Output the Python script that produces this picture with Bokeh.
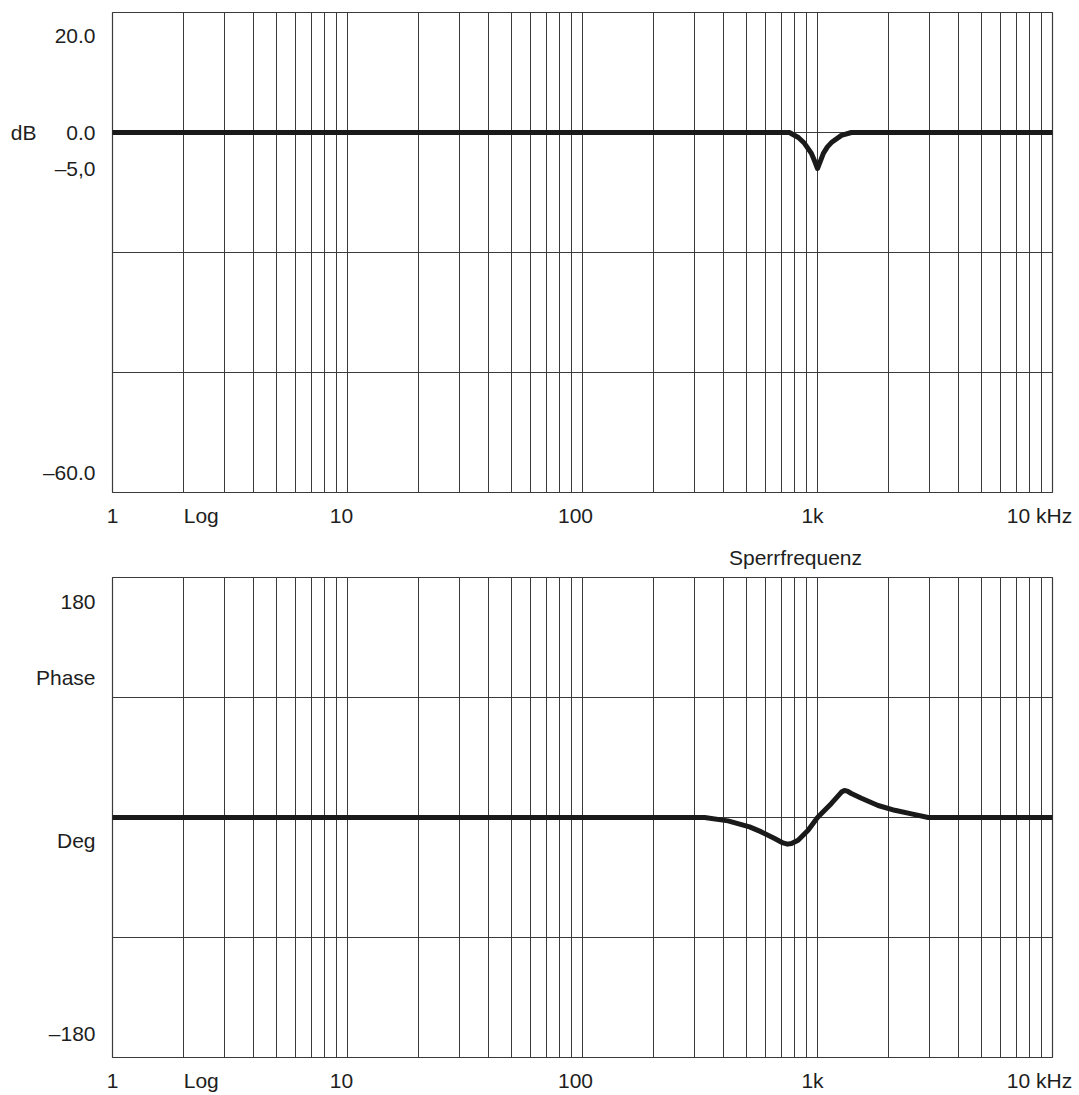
from bokeh.plotting import figure
from bokeh.layouts import column
from bokeh.models import Range1d, FixedTicker, LinearAxis, LogAxis
from bokeh.embed import file_html
from bokeh.resources import INLINE

# Band-stop (notch) filter tuned to 1 kHz: magnitude response
freq_gain = [1, 759, 829, 880, 942, 970, 1000, 1028, 1059, 1102, 1146, 1264, 1393, 10000]
gain_db = [0, 0, -0.7, -1.5, -2.9, -3.9, -5.0, -4.0, -2.9, -2.0, -1.4, -0.4, 0, 0]

# Phase response of the same filter
freq_phase = [1, 331, 416, 514, 577, 657, 713, 745, 775, 827, 912, 1000,
              1146, 1224, 1265, 1302, 1340, 1393, 1538, 1811, 2133, 2512, 2958, 10000]
phase_deg = [0, 0, -2.8, -7.8, -12, -17.5, -21.2, -22.2, -21.6, -18.9, -10.6, 0,
             11.7, 18, 21.2, 22.5, 22, 20, 16, 10, 6, 3, 0, 0]

# Axis text
x_tick_values = [1, 2, 10, 100, 1000, 10000]
x_tick_labels = ["1", "Log", "10", "100", "1k", "10 kHz"]
db_tick_labels = ["20.0", "0.0", "\u20135,0", "\u201360.0"]
phase_tick_labels = ["180", "Phase", "Deg", "\u2013180"]
notch_label = "Sperrfrequenz"
unit_label = "dB"

FONT = "Liberation Sans"
FS = "21px"
TEXT_COLOR = "#1e1e1e"
GRID_COLOR = "#3a3a3a"
CURVE_COLOR = "#1a1a1a"

FRAME_W = 940
DECADE_PX = FRAME_W / 4.0

# vertical grid: 1..9 in every decade up to 10 kHz
grid_freqs = [m * 10 ** k for k in range(4) for m in range(1, 10)] + [10000]

# horizontal nudges (px) of the frequency labels relative to their ticks
x_label_dx = [0, 18, -6, -7, -5, -13]


def nudge(f, dx):
    """Frequency that sits dx pixels right of f on the log axis."""
    return f * 10 ** (dx / DECADE_PX)


def style_axis(ax, standoff):
    ax.axis_line_color = None
    ax.major_tick_line_color = None
    ax.minor_tick_line_color = None
    ax.major_tick_in = 0
    ax.major_tick_out = 0
    ax.major_label_standoff = standoff
    ax.major_label_text_font = FONT
    ax.major_label_text_font_size = FS
    ax.major_label_text_color = TEXT_COLOR


def make_panel(height, border_top, border_bottom, y_lo, y_hi, band_lines,
               tick_pos, tick_text):
    p = figure(width=1079, height=height, x_axis_type="log",
               x_range=Range1d(1, 10000), y_range=Range1d(y_lo, y_hi),
               output_backend="svg", toolbar_location=None,
               min_border_left=112, min_border_right=27,
               min_border_top=border_top, min_border_bottom=border_bottom)
    p.background_fill_color = "white"
    p.border_fill_color = "white"
    p.outline_line_color = GRID_COLOR
    p.outline_line_width = 1.2

    p.xgrid.ticker = FixedTicker(ticks=grid_freqs)
    p.ygrid.ticker = FixedTicker(ticks=band_lines)
    for g in (p.xgrid, p.ygrid):
        g.grid_line_color = GRID_COLOR
        g.grid_line_width = 1
        g.grid_line_alpha = 1

    # frequency labels
    xpos = [nudge(f, d) for f, d in zip(x_tick_values, x_label_dx)]
    xa = p.xaxis[0]
    xa.ticker = FixedTicker(ticks=xpos)
    xa.major_label_overrides = {t: s for t, s in zip(xpos, x_tick_labels)}
    style_axis(xa, 11)

    ya = p.yaxis[0]
    ya.ticker = FixedTicker(ticks=tick_pos)
    ya.major_label_overrides = {t: s for t, s in zip(tick_pos, tick_text)}
    style_axis(ya, 17)
    return p


# magnitude panel: four equal bands, 0 dB on the first band line
db_top, db_bottom = 16.667, -50.0
p1 = make_panel(540, 12, 48, db_bottom, db_top,
                [0, -16.667, -33.333],
                [13.5, 0, -5, -47.2], db_tick_labels)
p1.line(freq_gain, gain_db, line_color=CURVE_COLOR, line_width=5,
        line_join="round", line_cap="round")
unit_axis = LinearAxis(ticker=FixedTicker(ticks=[0]),
                       major_label_overrides={0: unit_label})
style_axis(unit_axis, 3)
p1.add_layout(unit_axis, "left")

# phase panel
ph_top, ph_bottom = 200, -200
p2 = make_panel(555, 37, 38, ph_bottom, ph_top,
                [100, 0, -100],
                [180, 116.7, -19.2, -180], phase_tick_labels)
p2.line(freq_phase, phase_deg, line_color=CURVE_COLOR, line_width=5,
        line_join="round", line_cap="round")
notch_pos = nudge(1000, -22)
notch_axis = LogAxis(ticker=FixedTicker(ticks=[notch_pos]),
                     major_label_overrides={notch_pos: notch_label})
style_axis(notch_axis, 9)
p2.add_layout(notch_axis, "above")

layout = column(p1, p2, spacing=0)
open("out.html", "w").write(file_html(layout, INLINE))
